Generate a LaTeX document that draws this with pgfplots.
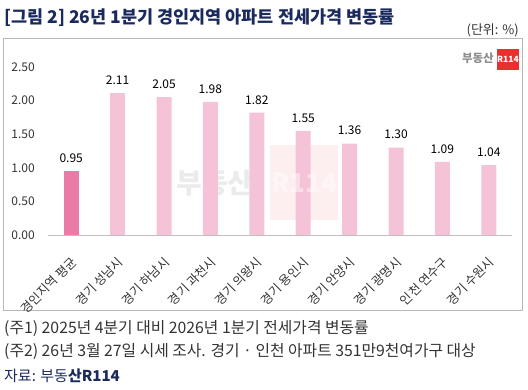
\documentclass[border=0pt]{standalone}
\usepackage{fontspec}
\setmainfont{Noto Sans CJK KR}
\usepackage{pgfplots}
\pgfplotsset{compat=1.18}
\definecolor{navy}{HTML}{1B2A5C}
\definecolor{pinkA}{HTML}{EA7BA6}
\definecolor{pinkB}{HTML}{F5C3D7}
\definecolor{txt}{HTML}{333333}
\definecolor{logored}{HTML}{E8312F}
\pgfplotstableread{
x y
0 0.95
}\avg
\pgfplotstableread{
x y
1 2.11
2 2.05
3 1.98
4 1.82
5 1.55
6 1.36
7 1.30
8 1.09
9 1.04
}\cities
\begin{document}
\begin{tikzpicture}
\useasboundingbox (0pt,0pt) rectangle (528pt,-389pt);
\draw[black!28, line width=0.8pt] (3pt,-38pt) rectangle (522pt,-310pt);
\node[anchor=west, inner sep=0pt, text=navy, font=\fontsize{17.5}{19}\selectfont\bfseries] at (4pt,-18pt) {[그림 2] 26년 1분기 경인지역 아파트 전세가격 변동률};
\node[anchor=east, inner sep=0pt, text=txt, font=\fontsize{13}{15}\selectfont] at (519pt,-30pt) {(단위: \%)};
% watermark
\begin{scope}[opacity=0.08]
\fill[logored] (270pt,-145pt) rectangle (338pt,-220pt);
\node[inner sep=0pt, text=black, font=\fontsize{28}{30}\selectfont\bfseries] at (215pt,-183pt) {부동산};
\end{scope}
% logo
\node[anchor=east, inner sep=0pt, text=black!45, font=\fontsize{11.5}{13}\selectfont\bfseries] at (494pt,-58pt) {부동산};
\fill[logored] (497pt,-49pt) rectangle (519pt,-70pt);
\node[inner sep=0pt, text=white, font=\fontsize{8.5}{10}\selectfont\bfseries] at (508pt,-59.5pt) {R114};
\begin{axis}[
  at={(48pt,-235pt)}, anchor=south west,
  scale only axis, width=464pt, height=168pt,
  xmin=-0.5, xmax=9.5, ymin=0, ymax=2.5,
  clip=false,
  axis x line=bottom, axis y line=none,
  x axis line style={black!25, -},
  ytick=\empty,
  xtick={0,...,9},
  xticklabels=\empty,
  major tick length=0pt,
  every node near coord/.append style={font=\fontsize{12}{14}\selectfont, text=black, yshift=5pt, /pgf/number format/.cd, fixed, fixed zerofill, precision=2, assume math mode=true},
  nodes near coords,
]
\addplot[ybar, bar width=15pt, bar shift=0pt, fill=pinkA, draw=none] table[x=x,y=y] {\avg};
\addplot[ybar, bar width=15pt, bar shift=0pt, fill=pinkB, draw=none] table[x=x,y=y] {\cities};
\end{axis}
\node[inner sep=0pt, text=white, opacity=0.45, font=\fontsize{26}{28}\selectfont\bfseries] at (304pt,-183pt) {R114};
% x category labels
\foreach \lab [count=\i from 0] in {경인지역 평균, 경기 성남시, 경기 하남시, 경기 과천시, 경기 의왕시, 경기 용인시, 경기 안양시, 경기 광명시, 인천 연수구, 경기 수원시}{
  \node[rotate=45, anchor=east, inner sep=0pt, text=txt, font=\fontsize{12.5}{14}\selectfont] at ({48pt+(\i+0.5)*46.4pt+3pt},-260pt) {\lab};
}
% y tick labels
\foreach \v/\lab in {0/0.00,0.5/0.50,1/1.00,1.5/1.50,2/2.00,2.5/2.50}{
  \node[anchor=east, inner sep=0pt, text=txt, font=\fontsize{12}{14}\selectfont] at (35pt,{-235pt+\v*67.2pt}) {\lab};
}
% footnotes
\node[anchor=west, inner sep=0pt, text=txt, font=\fontsize{15.8}{18}\selectfont] at (4pt,-329pt) {(주1) 2025년 4분기 대비 2026년 1분기 전세가격 변동률};
\node[anchor=west, inner sep=0pt, text=txt, font=\fontsize{15.8}{18}\selectfont] at (4pt,-352pt) {(주2) 26년 3월 27일 시세 조사. 경기 · 인천 아파트 351만9천여가구 대상};
\node[anchor=west, inner sep=0pt, text=navy, font=\fontsize{15}{17}\selectfont] at (4pt,-376pt) {자료: 부동\textbf{산R114}};
\end{tikzpicture}
\end{document}
